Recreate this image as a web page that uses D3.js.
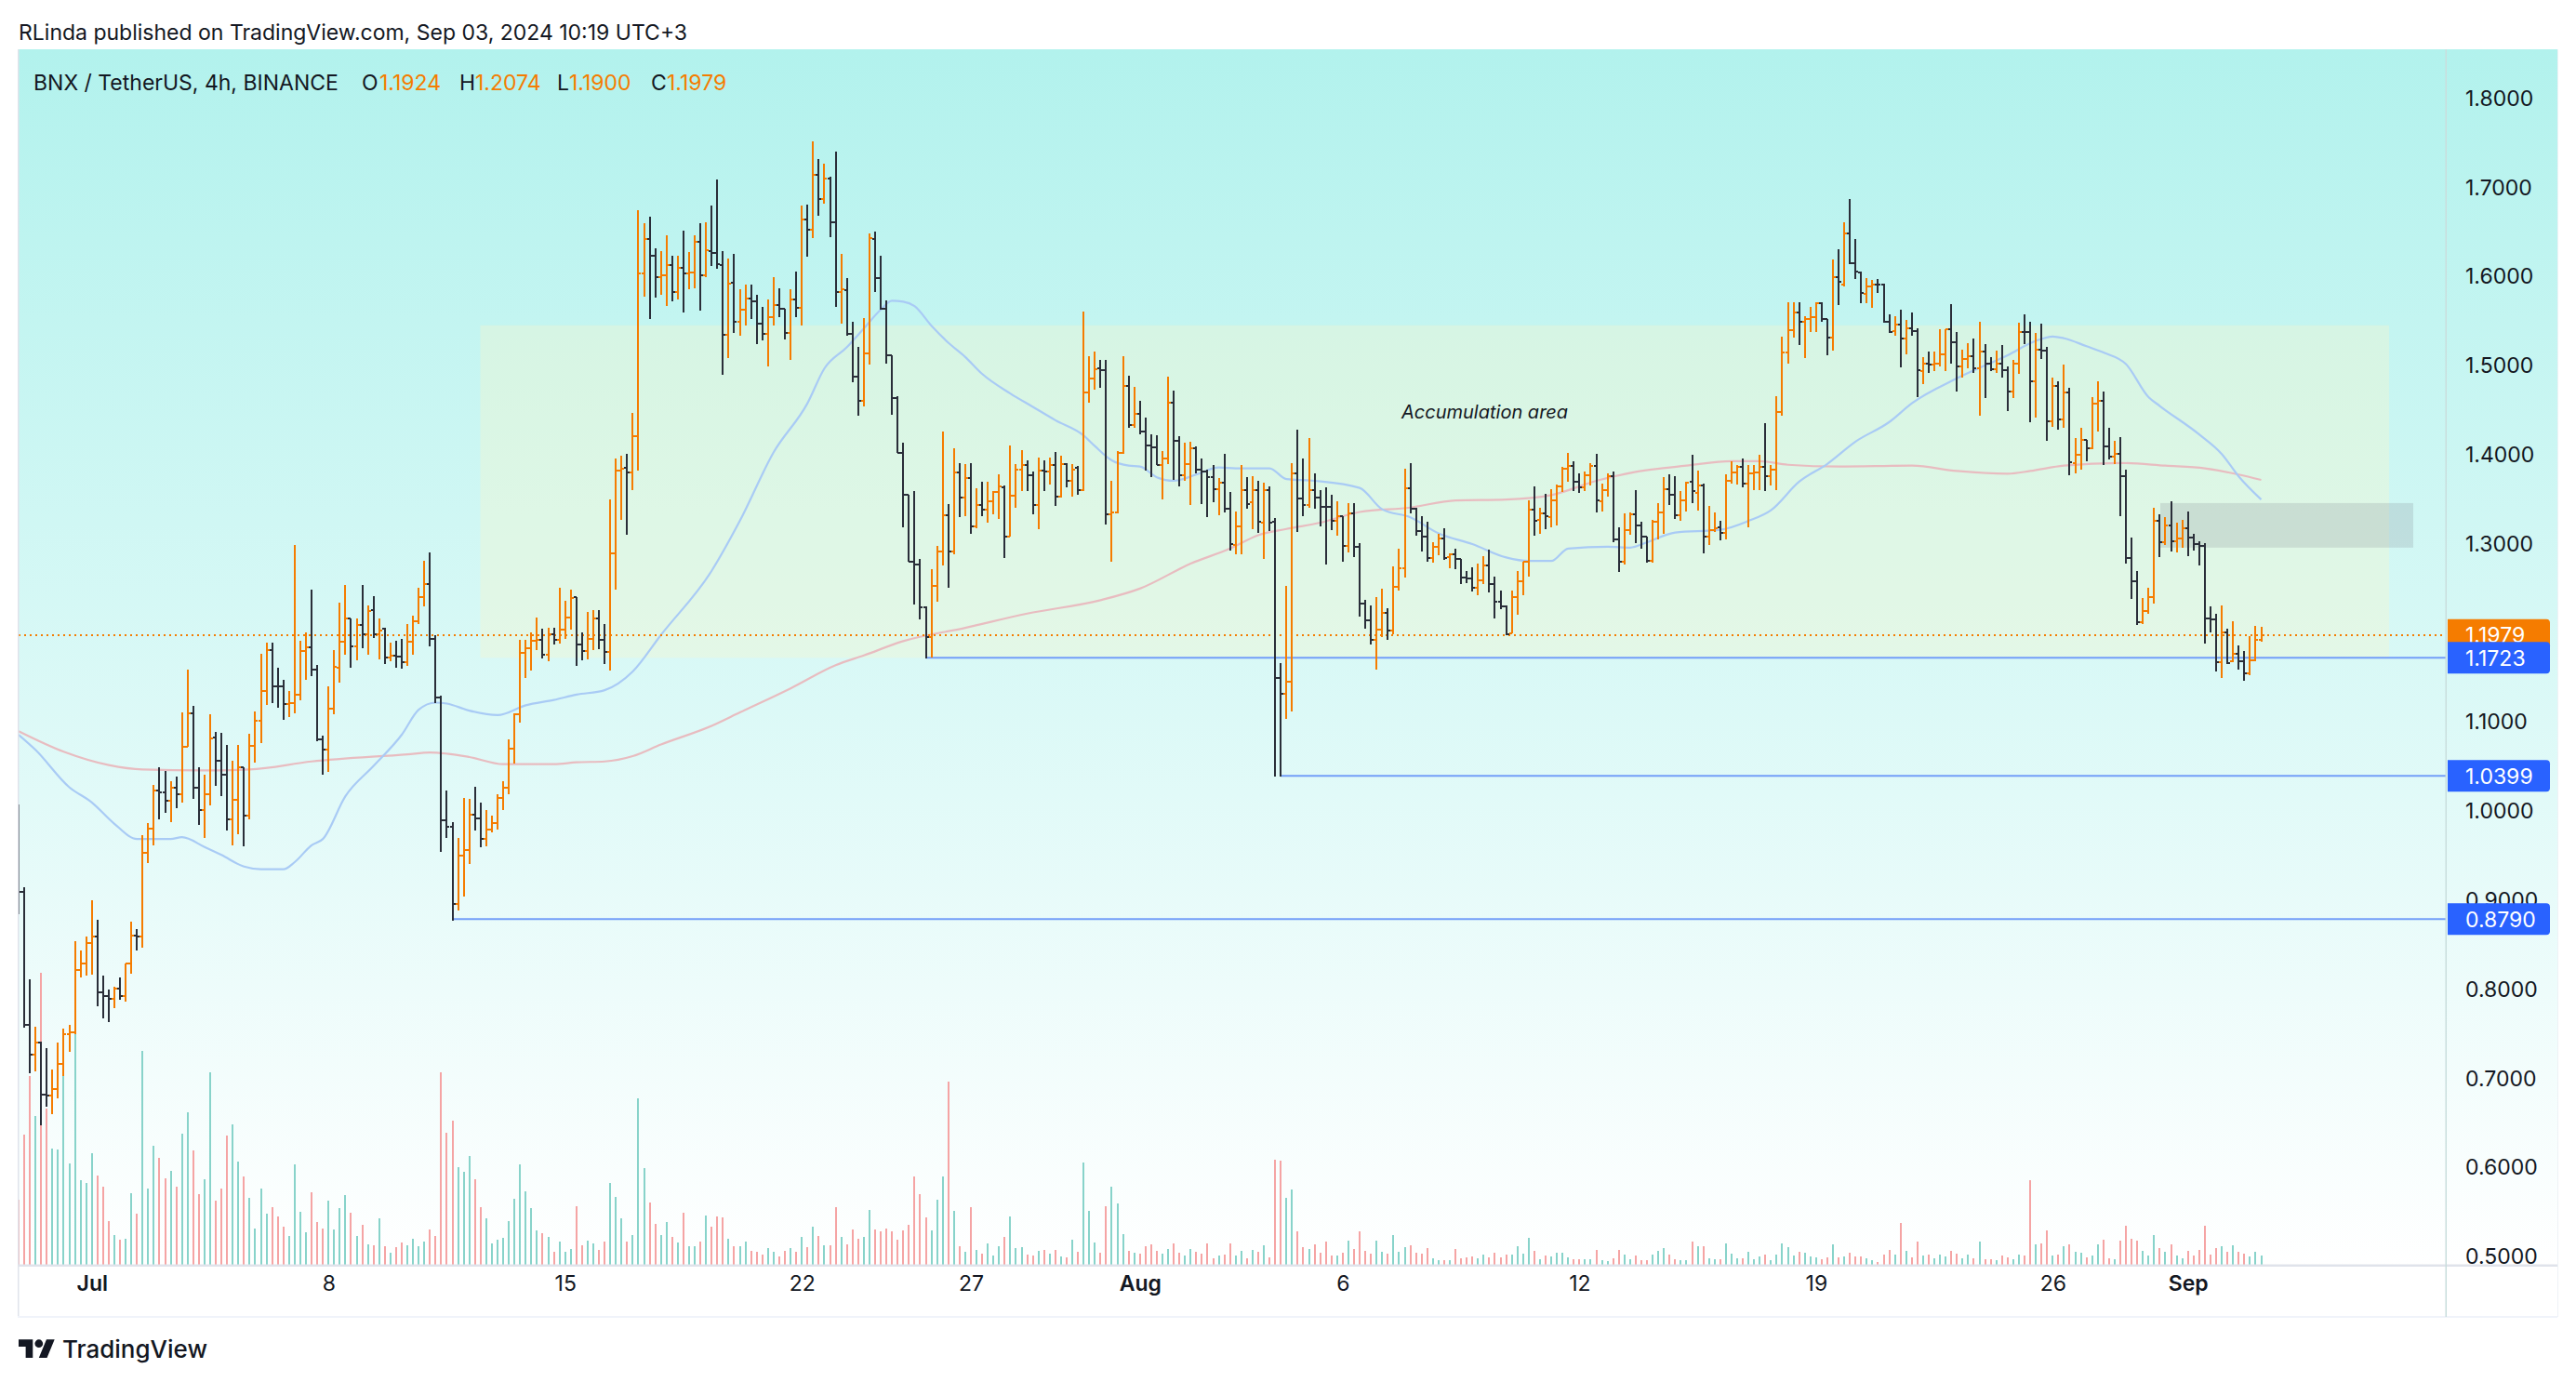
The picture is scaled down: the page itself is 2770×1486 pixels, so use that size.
<!DOCTYPE html>
<html><head><meta charset="utf-8">
<script src="https://cdn.jsdelivr.net/npm/d3@7"></script>
<style>html,body{margin:0;padding:0;background:#fff}svg{display:block}text{font-family:Inter,"Noto Sans",sans-serif}</style>
</head><body><svg id="c" width="2770" height="1486"></svg>
<script>
const opens=[.950,.910,.760,.727,.741,.682,.681,.688,.716,.750,
.752,.822,.829,.852,.860,.797,.793,.790,.801,.793,
.829,.861,.859,.953,.981,1.023,1.021,1.012,1.026,1.019,
1.072,1.110,1.026,1.001,1.019,1.083,1.057,1.041,.991,1.013,
1.049,.995,1.074,1.102,1.135,1.181,1.140,1.140,1.120,1.121,
1.131,1.180,1.184,1.159,1.081,1.069,1.115,1.161,1.190,1.217,
1.185,1.209,1.199,1.226,1.199,1.205,1.173,1.175,1.174,1.167,
1.190,1.213,1.241,1.255,1.194,1.128,.990,.983,.896,.950,
.957,.996,.992,.969,.980,.987,1.015,1.026,1.070,1.109,
1.178,1.183,1.191,1.192,1.176,1.199,1.192,1.204,1.218,1.240,
1.187,1.180,1.194,1.216,1.192,1.179,1.290,1.382,1.386,1.380,
1.421,1.604,1.642,1.624,1.600,1.602,1.613,1.583,1.610,1.604,
1.605,1.639,1.602,1.629,1.627,1.613,1.535,1.593,1.549,1.563,
1.576,1.572,1.547,1.536,1.555,1.568,1.564,1.537,1.575,1.565,
1.664,1.653,1.714,1.687,1.710,1.661,1.583,1.585,1.536,1.488,
1.461,1.514,1.642,1.599,1.564,1.512,1.464,1.402,1.355,1.280,
1.277,1.229,1.196,1.253,1.292,1.332,1.292,1.380,1.352,1.374,
1.320,1.344,1.339,1.348,1.358,1.364,1.308,1.354,1.383,1.389,
1.377,1.344,1.382,1.381,1.389,1.353,1.390,1.371,1.386,1.361,
1.470,1.486,1.497,1.495,1.333,1.336,1.402,1.477,1.434,1.446,
1.426,1.411,1.409,1.389,1.396,1.459,1.416,1.377,1.390,1.408,
1.383,1.381,1.375,1.362,1.369,1.340,1.299,1.320,1.361,1.347,
1.361,1.324,1.361,1.325,1.150,1.132,1.145,1.379,1.351,1.344,
1.361,1.352,1.342,1.342,1.326,1.331,1.298,1.334,1.297,1.233,
1.214,1.192,1.204,1.223,1.203,1.252,1.273,1.363,1.340,1.315,
1.308,1.284,1.297,1.306,1.285,1.289,1.283,1.262,1.261,1.251,
1.259,1.276,1.255,1.235,1.230,1.200,1.241,1.258,1.280,1.339,
1.327,1.334,1.330,1.349,1.365,1.385,1.388,1.370,1.364,1.377,
1.388,1.348,1.361,1.376,1.305,1.280,1.316,1.333,1.321,1.308,
1.281,1.325,1.335,1.362,1.355,1.332,1.349,1.370,1.357,1.366,
1.308,1.316,1.319,1.313,1.371,1.380,1.387,1.368,1.379,1.380,
1.387,1.376,1.383,1.448,1.515,1.540,1.560,1.550,1.553,1.555,
1.570,1.553,1.532,1.600,1.591,1.649,1.615,1.605,1.581,1.589,
1.591,1.591,1.549,1.539,1.546,1.531,1.542,1.539,1.494,1.502,
1.501,1.502,1.513,1.541,1.527,1.499,1.508,1.511,1.497,1.516,
1.502,1.496,1.502,1.495,1.471,1.502,1.538,1.538,1.483,1.518,
1.517,1.438,1.477,1.440,1.470,1.391,1.400,1.417,1.408,1.458,
1.461,1.410,1.398,1.401,1.376,1.284,1.258,1.212,1.225,1.241,
1.326,1.302,1.321,1.303,1.306,1.318,1.307,1.300,1.298,1.216,
1.215,1.167,1.201,1.168,1.177,1.168,1.155,1.170,1.1924];
const highs=[1.008,.915,.812,.758,.742,.734,.710,.741,.756,.760,
.854,.844,.860,.900,.878,.816,.800,.803,.814,.829,
.876,.868,.973,.987,1.030,1.050,1.045,1.034,1.039,1.111,
1.159,1.118,1.049,1.041,1.109,1.089,1.088,1.075,1.057,1.075,
1.050,1.087,1.112,1.177,1.189,1.189,1.161,1.148,1.135,1.299,
1.191,1.201,1.249,1.164,1.085,1.140,1.181,1.234,1.254,1.217,
1.217,1.254,1.231,1.242,1.216,1.206,1.189,1.191,1.194,1.210,
1.220,1.251,1.281,1.291,1.198,1.130,1.023,.988,.970,1.015,
1.014,1.028,1.010,1.001,.995,1.019,1.034,1.081,1.110,1.192,
1.193,1.201,1.218,1.205,1.206,1.206,1.251,1.236,1.249,1.241,
1.201,1.224,1.226,1.226,1.210,1.350,1.396,1.399,1.401,1.447,
1.675,1.660,1.667,1.632,1.629,1.647,1.624,1.624,1.652,1.628,
1.647,1.660,1.661,1.680,1.709,1.629,1.620,1.626,1.586,1.591,
1.591,1.580,1.566,1.575,1.600,1.587,1.564,1.586,1.606,1.680,
1.681,1.752,1.732,1.727,1.712,1.741,1.626,1.599,1.550,1.521,
1.554,1.649,1.651,1.624,1.573,1.512,1.466,1.414,1.355,1.360,
1.283,1.230,1.272,1.298,1.426,1.345,1.407,1.391,1.390,1.391,
1.363,1.370,1.370,1.360,1.378,1.366,1.411,1.390,1.405,1.394,
1.381,1.397,1.394,1.397,1.403,1.399,1.391,1.390,1.388,1.561,
1.511,1.516,1.507,1.507,1.371,1.404,1.511,1.489,1.476,1.461,
1.442,1.423,1.422,1.404,1.488,1.472,1.421,1.414,1.415,1.410,
1.396,1.383,1.389,1.374,1.401,1.358,1.337,1.389,1.375,1.376,
1.371,1.369,1.365,1.329,1.166,1.253,1.391,1.428,1.396,1.419,
1.379,1.361,1.364,1.355,1.348,1.331,1.346,1.346,1.301,1.237,
1.231,1.241,1.250,1.228,1.275,1.295,1.385,1.391,1.341,1.331,
1.325,1.302,1.312,1.318,1.290,1.295,1.283,1.270,1.274,1.278,
1.286,1.294,1.263,1.248,1.231,1.248,1.270,1.280,1.349,1.365,
1.341,1.356,1.362,1.367,1.387,1.402,1.393,1.379,1.381,1.391,
1.401,1.368,1.379,1.381,1.319,1.334,1.335,1.361,1.325,1.308,
1.327,1.346,1.375,1.378,1.376,1.360,1.370,1.400,1.382,1.368,
1.343,1.336,1.326,1.378,1.393,1.389,1.396,1.389,1.389,1.400,
1.436,1.389,1.466,1.533,1.571,1.571,1.571,1.556,1.566,1.571,
1.571,1.553,1.619,1.631,1.661,1.687,1.642,1.606,1.599,1.596,
1.598,1.592,1.558,1.556,1.563,1.552,1.560,1.542,1.510,1.516,
1.516,1.541,1.541,1.569,1.538,1.518,1.525,1.531,1.550,1.524,
1.510,1.517,1.523,1.499,1.507,1.548,1.558,1.549,1.537,1.547,
1.521,1.487,1.483,1.501,1.475,1.419,1.431,1.417,1.465,1.483,
1.471,1.430,1.416,1.420,1.384,1.307,1.270,1.239,1.251,1.341,
1.333,1.330,1.348,1.324,1.327,1.337,1.311,1.303,1.301,1.230,
1.222,1.231,1.205,1.213,1.186,1.180,1.197,1.208,1.2074];
const lows=[.885,.757,.706,.708,.648,.668,.660,.678,.703,.730,
.750,.814,.816,.817,.781,.768,.763,.779,.789,.786,
.818,.844,.847,.942,.962,.991,.998,.988,1.004,1.010,
1.072,1.014,.985,.970,1.007,1.029,1.017,.979,.962,.974,
.961,.991,1.055,1.077,1.119,1.122,1.116,1.103,1.106,1.110,
1.125,1.148,1.152,1.079,1.041,1.044,1.109,1.144,1.176,1.161,
1.169,1.183,1.176,1.195,1.171,1.165,1.168,1.161,1.160,1.163,
1.176,1.210,1.230,1.185,1.122,.954,.970,.877,.889,.904,
.941,.979,.960,.961,.976,.980,1.001,1.019,1.054,1.100,
1.150,1.158,1.181,1.172,1.168,1.187,1.188,1.194,1.204,1.163,
1.169,1.171,1.181,1.182,1.165,1.158,1.249,1.327,1.310,1.361,
1.382,1.578,1.553,1.577,1.580,1.567,1.572,1.575,1.560,1.586,
1.587,1.562,1.600,1.612,1.609,1.490,1.509,1.537,1.534,1.545,
1.553,1.524,1.529,1.499,1.545,1.555,1.530,1.507,1.555,1.545,
1.623,1.643,1.668,1.682,1.644,1.566,1.547,1.534,1.482,1.444,
1.455,1.501,1.583,1.563,1.503,1.445,1.402,1.319,1.280,1.232,
1.215,1.172,1.173,1.235,1.276,1.251,1.288,1.330,1.331,1.312,
1.318,1.331,1.324,1.333,1.328,1.284,1.308,1.341,1.359,1.359,
1.333,1.317,1.360,1.367,1.343,1.352,1.364,1.353,1.355,1.359,
1.459,1.473,1.475,1.322,1.280,1.334,1.401,1.430,1.430,1.423,
1.382,1.375,1.389,1.350,1.390,1.372,1.365,1.371,1.344,1.379,
1.345,1.330,1.347,1.332,1.336,1.293,1.289,1.289,1.340,1.317,
1.313,1.283,1.315,1.039,1.039,1.104,1.112,1.314,1.331,1.341,
1.340,1.320,1.277,1.316,1.309,1.280,1.291,1.285,1.219,1.205,
1.187,1.159,1.196,1.193,1.199,1.248,1.262,1.334,1.309,1.292,
1.280,1.279,1.287,1.282,1.273,1.272,1.255,1.256,1.247,1.243,
1.255,1.246,1.217,1.227,1.198,1.200,1.221,1.243,1.263,1.309,
1.311,1.317,1.319,1.321,1.358,1.370,1.359,1.357,1.360,1.366,
1.336,1.337,1.353,1.302,1.269,1.277,1.310,1.301,1.295,1.279,
1.279,1.305,1.311,1.344,1.328,1.326,1.337,1.346,1.338,1.290,
1.299,1.314,1.304,1.305,1.368,1.367,1.364,1.319,1.361,1.361,
1.359,1.366,1.361,1.444,1.502,1.532,1.523,1.509,1.538,1.538,
1.549,1.512,1.517,1.568,1.589,1.614,1.597,1.570,1.570,1.565,
1.582,1.548,1.537,1.534,1.498,1.513,1.534,1.465,1.480,1.492,
1.494,1.499,1.494,1.502,1.471,1.487,1.497,1.492,1.444,1.464,
1.494,1.492,1.487,1.449,1.464,1.491,1.524,1.437,1.442,1.508,
1.416,1.432,1.428,1.430,1.377,1.379,1.383,1.393,1.406,1.426,
1.389,1.395,1.390,1.331,1.278,1.238,1.209,1.210,1.222,1.233,
1.285,1.299,1.292,1.291,1.296,1.286,1.293,1.276,1.188,1.201,
1.157,1.150,1.165,1.167,1.159,1.147,1.153,1.168,1.1900];
const closes=[.910,.760,.727,.741,.682,.681,.688,.716,.750,.752,
.822,.829,.852,.860,.797,.793,.790,.801,.793,.829,
.861,.860,.953,.981,1.023,1.021,1.012,1.026,1.019,1.072,
1.110,1.026,1.001,1.019,1.082,1.057,1.041,.991,1.013,1.049,
.995,1.074,1.102,1.135,1.181,1.140,1.140,1.120,1.121,1.131,
1.180,1.184,1.159,1.081,1.069,1.115,1.162,1.190,1.216,1.185,
1.209,1.199,1.225,1.199,1.203,1.173,1.175,1.174,1.167,1.190,
1.213,1.241,1.255,1.194,1.128,.990,.983,.896,.950,.957,
.996,.992,.969,.980,.987,1.015,1.026,1.070,1.109,1.178,
1.183,1.191,1.192,1.176,1.199,1.192,1.204,1.218,1.239,1.187,
1.180,1.194,1.216,1.192,1.179,1.290,1.382,1.385,1.380,1.421,
1.604,1.642,1.624,1.600,1.602,1.613,1.583,1.610,1.604,1.605,
1.639,1.602,1.630,1.627,1.614,1.535,1.592,1.549,1.563,1.576,
1.572,1.547,1.536,1.555,1.568,1.564,1.537,1.575,1.565,1.664,
1.653,1.714,1.687,1.710,1.661,1.583,1.586,1.536,1.488,1.461,
1.514,1.643,1.599,1.564,1.512,1.464,1.402,1.355,1.280,1.277,
1.229,1.196,1.253,1.292,1.332,1.292,1.380,1.352,1.374,1.320,
1.344,1.339,1.348,1.358,1.365,1.308,1.354,1.383,1.389,1.377,
1.344,1.382,1.381,1.389,1.353,1.390,1.371,1.384,1.361,1.470,
1.486,1.496,1.495,1.333,1.336,1.402,1.477,1.434,1.446,1.426,
1.411,1.409,1.389,1.396,1.459,1.416,1.377,1.390,1.408,1.383,
1.381,1.375,1.362,1.369,1.340,1.300,1.320,1.361,1.345,1.361,
1.325,1.361,1.324,1.150,1.132,1.145,1.379,1.351,1.344,1.361,
1.352,1.342,1.342,1.326,1.331,1.298,1.334,1.297,1.233,1.214,
1.193,1.204,1.223,1.203,1.252,1.273,1.363,1.340,1.315,1.308,
1.284,1.297,1.306,1.284,1.289,1.283,1.262,1.261,1.251,1.259,
1.276,1.255,1.235,1.230,1.199,1.241,1.258,1.280,1.339,1.326,
1.334,1.331,1.349,1.365,1.385,1.388,1.370,1.364,1.377,1.388,
1.349,1.361,1.376,1.305,1.280,1.316,1.333,1.321,1.308,1.281,
1.325,1.335,1.362,1.355,1.332,1.349,1.369,1.359,1.366,1.308,
1.316,1.318,1.313,1.371,1.380,1.387,1.368,1.379,1.380,1.387,
1.376,1.383,1.448,1.515,1.540,1.560,1.550,1.553,1.555,1.570,
1.553,1.532,1.600,1.594,1.649,1.615,1.606,1.582,1.589,1.591,
1.591,1.549,1.538,1.546,1.531,1.542,1.539,1.495,1.502,1.501,
1.502,1.513,1.541,1.527,1.499,1.508,1.511,1.497,1.516,1.502,
1.496,1.502,1.495,1.471,1.502,1.538,1.538,1.483,1.518,1.517,
1.438,1.477,1.440,1.470,1.392,1.400,1.417,1.408,1.458,1.461,
1.410,1.398,1.401,1.376,1.284,1.258,1.212,1.225,1.241,1.326,
1.302,1.321,1.303,1.306,1.318,1.307,1.300,1.298,1.216,1.215,
1.167,1.201,1.166,1.177,1.168,1.155,1.170,1.192,1.1979];
// relative volume (no volume scale is shown)
const volumes=[208,418,608,478,940,503,373,370,608,325,743,271,262,358,286,250,139,94,79,82,
229,163,688,244,382,343,277,301,250,421,490,367,226,274,619,205,244,415,451,331,
283,214,115,244,163,184,154,121,91,322,169,103,232,136,115,205,112,181,223,166,
91,127,64,61,148,58,37,55,70,61,82,58,73,112,91,619,424,463,313,298,
349,274,184,148,67,79,85,139,211,322,235,181,109,100,88,40,73,40,49,187,
61,76,67,46,73,262,217,148,73,94,535,310,199,130,94,136,88,70,166,58,
58,73,157,121,154,151,82,58,58,73,43,40,31,52,40,25,43,52,40,88,
55,121,91,61,61,184,
88,65,111,83,88,175,111,106,115,106,78,109,126,283,226,151,109,208,283,589,
172,58,40,184,46,34,67,28,58,88,154,52,55,31,28,43,46,34,46,25,
22,79,40,328,172,70,37,187,250,196,97,43,37,34,58,64,43,34,49,67,
37,28,49,40,34,67,19,28,31,67,28,43,19,46,40,61,22,337,334,214,
241,106,55,49,64,37,73,28,28,37,76,49,106,43,34,76,40,34,94,40,
55,61,37,34,52,19,13,13,13,49,19,22,25,19,31,22,37,22,31,31,
58,34,85,43,16,28,25,37,37,22,16,16,16,16,46,13,10,19,46,31,
16,28,13,13,31,43,52,31,16,13,13,73,58,58,19,16,16,67,34,19,
19,40,16,25,31,13,31,67,55,28,40,37,25,22,16,22,64,22,25,37,
25,25,19,13,7,31,46,31,133,43,22,73,28,31,19,31,25,43,34,19,
31,19,73,16,16,13,28,22,16,31,28,271,64,67,109,28,31,58,64,40,
37,22,28,64,79,19,16,76,124,82,76,43,28,94,52,40,64,28,19,43,
28,46,124,31,52,58,40,61,40,34,25,40,28];
const blueIdx=[0,3,9,13,17,21,27,29,33,36,40,43,47,49,52,54,58,63,68,71,74,76,80,85,90,95,99,104,109,114,123,128,134,140,143,147,150,153,155,157,159,162,165,168,171,176,180,184,189,191,194,197,199,202,205,209,213,216,222,225,230,238,242,247,252,258,264,268,272,275,282,286,289,294,302,307,311,316,321,326,332,336,344,353,358,361,363,367,370,374,378,380,387,391,394,398];
const blueVal=[1.086,1.069,1.027,1.010,.986,.969,.969,.971,.960,.951,.938,.935,.935,.943,.962,.969,1.017,1.051,1.086,1.114,1.122,1.121,1.113,1.108,1.119,1.125,1.131,1.136,1.157,1.198,1.270,1.326,1.403,1.458,1.497,1.521,1.542,1.563,1.573,1.572,1.567,1.545,1.526,1.510,1.491,1.469,1.454,1.439,1.422,1.410,1.394,1.388,1.387,1.375,1.371,1.378,1.386,1.385,1.385,1.373,1.371,1.363,1.339,1.330,1.312,1.300,1.285,1.281,1.281,1.295,1.297,1.296,1.302,1.313,1.316,1.326,1.338,1.370,1.390,1.415,1.437,1.458,1.486,1.512,1.528,1.533,1.531,1.522,1.515,1.502,1.465,1.455,1.423,1.401,1.376,1.350];
const redIdx=[0,8,16,22,33,41,52,69,73,80,86,95,99,104,109,114,123,128,137,145,150,157,168,179,192,199,208,215,220,225,231,238,247,255,264,272,280,287,296,304,309,314,323,336,344,353,357,363,373,381,388,394,398];
const redVal=[1.090,1.067,1.052,1.047,1.046,1.047,1.056,1.064,1.066,1.061,1.053,1.053,1.055,1.056,1.062,1.075,1.096,1.111,1.138,1.164,1.175,1.191,1.206,1.222,1.237,1.250,1.278,1.295,1.310,1.317,1.324,1.336,1.341,1.349,1.350,1.355,1.371,1.381,1.388,1.393,1.393,1.389,1.387,1.388,1.382,1.379,1.382,1.388,1.391,1.388,1.385,1.378,1.372];
const priceTicks=[1.8,1.7,1.6,1.5,1.4,1.3,1.2,1.1,1.0,.9,.8,.7,.6,.5];
const timeTickIdx=[13,55,97,139,169,199,235,277,319,361,385];
const timeTickLabels=["Jul","8","15","22","27","Aug","6","12","19","26","Sep"];
const monthLabels=["Jul","Aug","Sep"];
const supportLevels=[{p:1.1723,i:161},{p:1.0399,i:224},{p:.8790,i:77}];
const lastPrice=1.1979;
const boxAccum=[1.5455,1.1723], boxGrey=[1.3460,1.2960];

const svg=d3.select("#c");
const L=20,R=2630,AX=2750,T=53,B=1360,B2=1416;
const x=d3.scaleLinear().domain([0,398]).range([20,2431.5]);
const y=d3.scaleLinear().domain([.5,1.8]).range([1351.4,106]);
const v=d3.scaleLinear().domain([0,940]).range([1359.5,1046]);
const UP="#f57c00",DN="#2a2e39",INK="#131722";

const defs=svg.append("defs");
const g=defs.append("linearGradient").attr("id","bg").attr("x1",0).attr("x2",0).attr("y1",0).attr("y2",1);
g.append("stop").attr("offset",0).attr("stop-color","#b2f2ed");
g.append("stop").attr("offset",1).attr("stop-color","#ffffff");
defs.append("clipPath").attr("id","pane").append("rect").attr("x",L).attr("y",T).attr("width",R-L).attr("height",B-T);

svg.append("text").attr("x",20).attr("y",43).attr("font-size",23).attr("fill",INK).text("RLinda published on TradingView.com, Sep 03, 2024 10:19 UTC+3");
svg.append("rect").attr("x",L).attr("y",T).attr("width",AX-L).attr("height",B-T).attr("fill","url(#bg)");

const pane=svg.append("g").attr("clip-path","url(#pane)");
// volume
pane.append("g").selectAll("rect").data(volumes).join("rect")
 .attr("x",(d,i)=>Math.round(x(i))-1).attr("width",2)
 .attr("y",d=>v(d)).attr("height",d=>v(0)-v(d)).attr("shape-rendering","crispEdges")
 .attr("fill",(d,i)=>closes[i]>opens[i]?"#88d3ca":"#f5a4a4");
// boxes
pane.append("rect").attr("x",516.5).attr("width",2569-516.5).attr("y",y(boxAccum[0])).attr("height",y(boxAccum[1])-y(boxAccum[0])).attr("fill","rgba(250,247,202,.35)");
pane.append("rect").attr("x",2323).attr("width",2595-2323).attr("y",y(boxGrey[0])).attr("height",y(boxGrey[1])-y(boxGrey[0])).attr("fill","rgba(120,123,134,.2)");
// moving averages
const ma=(idx,val,col)=>pane.append("path").attr("fill","none").attr("stroke",col).attr("stroke-width",2.2)
 .attr("d",d3.line().curve(d3.curveMonotoneX).x(d=>x(d)).y((d,k)=>y(val[k]))(idx));
ma(redIdx,redVal,"#e8bcc0");
ma(blueIdx,blueVal,"#a9cbf5");
// last price
pane.append("line").attr("x1",L).attr("x2",R).attr("y1",Math.round(y(lastPrice))).attr("y2",Math.round(y(lastPrice)))
 .attr("stroke",UP).attr("stroke-width",2).attr("stroke-dasharray","2 4");
// levels
pane.append("g").selectAll("line").data(supportLevels).join("line")
 .attr("x1",d=>x(d.i)).attr("x2",R).attr("y1",d=>y(d.p)).attr("y2",d=>y(d.p))
 .attr("stroke","#739ef8").attr("stroke-width",2);
// OHLC bars
pane.append("g").selectAll("path").data(opens).join("path")
 .attr("fill","none").attr("shape-rendering","crispEdges").attr("stroke-width",2)
 .attr("stroke",(d,i)=>closes[i]>opens[i]?UP:DN)
 .attr("d",(d,i)=>{const X=Math.round(x(i)),o=Math.round(y(d)),c=Math.round(y(closes[i]));
   return `M${X},${y(highs[i])}V${y(lows[i])}M${X-3},${o}H${X}M${X},${c}H${X+3}`;});

svg.append("text").attr("x",1507).attr("y",450).attr("font-size",20).attr("font-style","italic").attr("fill",INK).text("Accumulation area");

// frame
svg.append("rect").attr("x",19).attr("y",T).attr("width",1.5).attr("height",B2-T).attr("fill","#e0e3eb");
svg.append("rect").attr("x",L).attr("y",B-0.5).attr("width",AX-L).attr("height",2.5).attr("fill","#e0e3eb");
svg.append("rect").attr("x",19).attr("y",B2-1).attr("width",AX-19).attr("height",2).attr("fill","#f0f3fa");
svg.append("rect").attr("x",R-.5).attr("y",T).attr("width",1.5).attr("height",B2-T).attr("fill","#c9dedd");
svg.append("rect").attr("x",AX).attr("y",T).attr("width",1).attr("height",B2-T).attr("fill","#eef2f6");

// axes
const yAxis=d3.axisRight(y).tickValues(priceTicks).tickFormat(d3.format(".4f")).tickSize(0).tickPadding(0);
const ya=svg.append("g").attr("transform",`translate(2651,0)`).call(yAxis);
ya.select(".domain").remove();
ya.selectAll("text").attr("font-size",23).attr("fill",INK).attr("font-family","Inter");
const xAxis=d3.axisBottom(x).tickValues(timeTickIdx).tickFormat((d,k)=>timeTickLabels[k]).tickSize(0).tickPadding(0);
const xa=svg.append("g").attr("transform",`translate(0,1372)`).call(xAxis);
xa.select(".domain").remove();
xa.selectAll("text").attr("font-size",23).attr("fill",INK).attr("font-family","Inter").attr("font-weight",d=>monthLabels.includes(timeTickLabels[timeTickIdx.indexOf(d)])?600:400);

// price tags
const tags=[{p:lastPrice,c:UP},...supportLevels.map(d=>({p:d.p,c:"#2962ff"}))];
const tg=svg.append("g").selectAll("g").data(tags).join("g").attr("transform",d=>`translate(2632,${y(d.p)})`);
tg.append("path").attr("fill",d=>d.c).attr("d","M0,-17H106a4,4 0 0 1 4,4V13a4,4 0 0 1 -4,4H0Z");
tg.append("text").attr("x",19).attr("y",8.5).attr("font-size",23).attr("fill","#fff").text(d=>d3.format(".4f")(d.p));

// legend
const leg=[["BNX / TetherUS, 4h, BINANCE",36,INK],["O",389,INK],["1.1924",408,UP],["H",494,INK],["1.2074",511,UP],["L",599,INK],["1.1900",612,UP],["C",700,INK],["1.1979",717,UP]];
svg.append("g").selectAll("text").data(leg).join("text").attr("x",d=>d[1]).attr("y",97).attr("font-size",23).attr("fill",d=>d[2]).text(d=>d[0]);

// logo
const lg=svg.append("g").attr("transform","translate(20,1436) scale(1.09)").attr("fill","#131722");
lg.append("path").attr("d","M14 22H7V11H0V4h14v18zM28 22h-8l7.5-18h8L28 22z");
lg.append("circle").attr("cx",20).attr("cy",8).attr("r",4);
svg.append("text").attr("x",67).attr("y",1460).attr("font-size",26).attr("font-weight",500).attr("fill","#131722").text("TradingView");
console.log(opens.length,highs.length,lows.length,closes.length,volumes.length);
document.title=[opens.length,highs.length,lows.length,closes.length,volumes.length].join();
</script></body></html>
